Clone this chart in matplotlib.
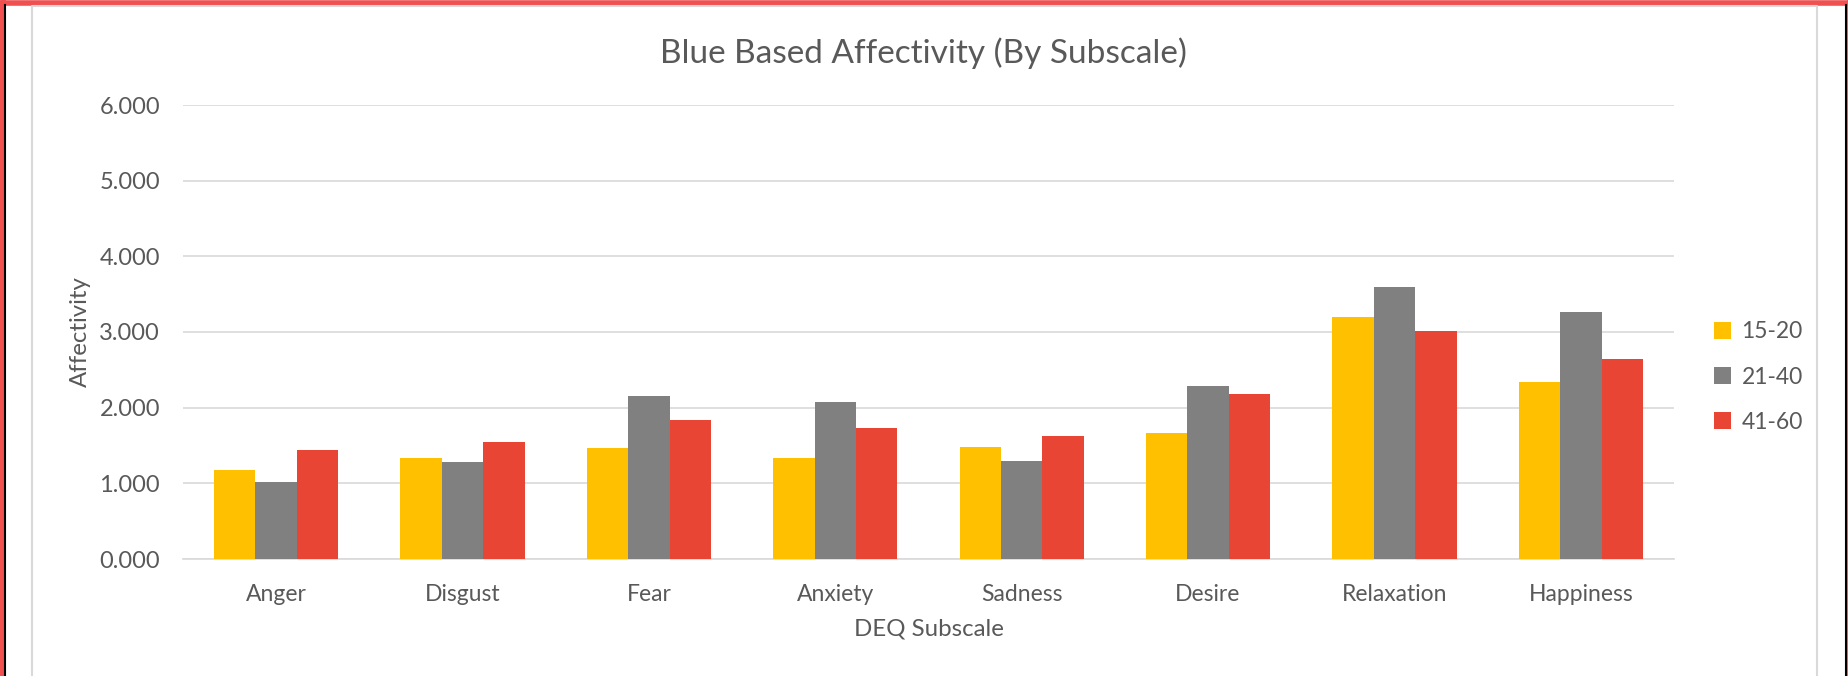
import numpy as np
import matplotlib.pyplot as plt
from matplotlib.lines import Line2D

# %% data
subscales = ["Anger", "Disgust", "Fear", "Anxiety", "Sadness", "Desire", "Relaxation", "Happiness"]
age_15_20 = [1.18, 1.33, 1.47, 1.33, 1.48, 1.67, 3.20, 2.34]
age_21_40 = [1.02, 1.28, 2.16, 2.07, 1.30, 2.28, 3.59, 3.26]
age_41_60 = [1.44, 1.54, 1.84, 1.73, 1.63, 2.18, 3.01, 2.64]
groups = ["15-20", "21-40", "41-60"]
colors = ["#FFC000", "#808080", "#E94535"]

# %% plot
plt.rcParams['font.family'] = ['Lato', 'DejaVu Sans']
txt = "#595959"

fig = plt.figure(figsize=(18.49, 6.76), dpi=100)
ax = fig.add_axes([183/1849, 1 - 559/676, (1674-183)/1849, (559-105)/676])

x = np.arange(len(subscales))
w = 1/4.5
for i, (vals, lab, c) in enumerate(zip([age_15_20, age_21_40, age_41_60], groups, colors)):
    ax.bar(x + (i - 1)*w, vals, width=w, color=c, label=lab, zorder=3)

ax.set_xlim(-0.5, len(subscales) - 0.5)
ax.set_ylim(0, 6)
ax.set_yticks(np.arange(0, 7, 1))
ax.yaxis.set_major_formatter(plt.FormatStrFormatter('%.3f'))
ax.set_xticks(x)
ax.set_xticklabels(subscales)
ax.tick_params(length=0, colors=txt)
ax.tick_params(axis='y', pad=16.5, labelsize=17)
ax.tick_params(axis='x', pad=18, labelsize=16.5)
ax.grid(axis='y', color='#d9d9d9', linewidth=1.2, zorder=0)
for s in ['top', 'right', 'left']:
    ax.spines[s].set_visible(False)
ax.spines['bottom'].set_color('#d9d9d9')
ax.spines['bottom'].set_linewidth(1.2)

ax.set_xlabel("DEQ Subscale", fontsize=17.3, color=txt, labelpad=10)
ax.set_ylabel("Affectivity", fontsize=17.3, color=txt, labelpad=6)
fig.text(923/1849, 1 - 53/676, "Blue Based Affectivity (By Subscale)", fontsize=24,
         color=txt, ha='center', va='center')

ax.legend(loc='center left', frameon=False, fontsize=16.5, labelcolor=txt,
          handlelength=0.75, handleheight=0.75, handletextpad=0.45, labelspacing=1.05,
          borderaxespad=0, borderpad=0)
leg = ax.get_legend()
leg.set_bbox_to_anchor((1714/1849, 1 - 377/676), transform=fig.transFigure)

# window frame
red = '#F05050'
tf = fig.transFigure
fig.add_artist(Line2D([1.5/1849, 1.5/1849, 1846/1849], [0, 1 - 2.5/676, 1 - 2.5/676], transform=tf, color=red, lw=4))
fig.add_artist(Line2D([2.5/1849, 2.5/1849], [0, 1], transform=tf, color=red, lw=4))
fig.add_artist(Line2D([1848/1849, 1848/1849], [0, 1], transform=tf, color=red, lw=2))
fig.add_artist(Line2D([5.5/1849, 5.5/1849], [0, 1 - 5/676], transform=tf, color='black', lw=1.5))
fig.add_artist(Line2D([1846.5/1849, 1846.5/1849], [0, 1 - 5/676], transform=tf, color='black', lw=1.5))
fig.add_artist(Line2D([32/1849, 32/1849, 1817/1849, 1817/1849], [0, 1 - 6/676, 1 - 6/676, 0],
                      transform=tf, color='#d9d9d9', lw=1.5))

fig.savefig("out.png", dpi=100)
